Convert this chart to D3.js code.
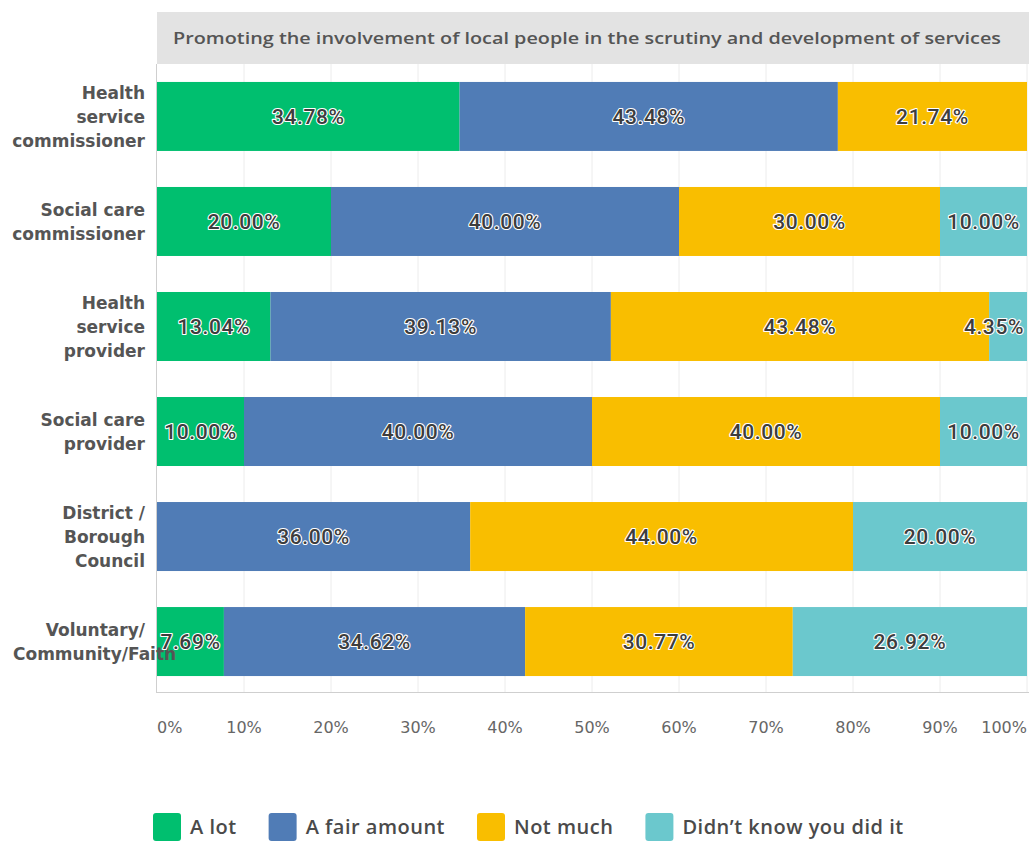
<!DOCTYPE html>
<html>
<head>
<meta charset="utf-8">
<script src="https://cdn.jsdelivr.net/npm/d3@7"></script>
<style>
  body { margin: 0; background: #fff; }
  svg { display: block; }
  text { font-family: "Open Sans", sans-serif; }
</style>
</head>
<body>
<svg id="chart" width="1029" height="841"></svg>
<script>
// Survey responses, percentage of respondents per organisation type
const chartTitle = "Promoting the involvement of local people in the scrutiny and development of services";

const categories = [
  "Health service commissioner",
  "Social care commissioner",
  "Health service provider",
  "Social care provider",
  "District / Borough Council",
  "Voluntary/ Community/Faith"
];
// How each category label wraps onto lines
const categoryLines = [
  ["Health", "service", "commissioner"],
  ["Social care", "commissioner"],
  ["Health", "service", "provider"],
  ["Social care", "provider"],
  ["District /", "Borough", "Council"],
  ["Voluntary/", "Community/Faith"]
];

const seriesNames = ["A lot", "A fair amount", "Not much", "Didn\u2019t know you did it"];
const aLot        = [34.78, 20.00, 13.04, 10.00, 0.00, 7.69];
const aFairAmount = [43.48, 40.00, 39.13, 40.00, 36.00, 34.62];
const notMuch     = [21.74, 30.00, 43.48, 40.00, 44.00, 30.77];
const didntKnow   = [0.00, 10.00, 4.35, 10.00, 20.00, 26.92];

const tickValues = [0, 10, 20, 30, 40, 50, 60, 70, 80, 90, 100];
const tickLabels = ["0%", "10%", "20%", "30%", "40%", "50%", "60%", "70%", "80%", "90%", "100%"];

const colors = ["#00BF6F", "#507CB6", "#F9BE00", "#6BC8CD"];

// Table for the stack layout
const seriesValues = [aLot, aFairAmount, notMuch, didntKnow];
const rows = categories.map((c, i) => {
  const r = { category: c };
  seriesNames.forEach((s, j) => { r[s] = seriesValues[j][i]; });
  return r;
});

const svg = d3.select("#chart");
const plot = { left: 157, right: 1027, top: 64, bottom: 694 };

const x = d3.scaleLinear().domain([0, 100]).range([plot.left, plot.right]);
const y = d3.scaleBand().domain(categories).range([plot.top, plot.bottom])
  .paddingInner(0.343).paddingOuter(0.171);
const color = d3.scaleOrdinal().domain(seriesNames).range(colors);

// Title strip
svg.append("rect")
  .attr("x", plot.left).attr("y", 12)
  .attr("width", 1029 - plot.left).attr("height", 52)
  .attr("fill", "#e3e3e3");
svg.append("text")
  .attr("x", 173).attr("y", 38)
  .attr("dy", "0.36em")
  .attr("font-size", 16.5).attr("font-weight", 600)
  .attr("fill", "#555")
  .attr("textLength", 828).attr("lengthAdjust", "spacingAndGlyphs")
  .text(chartTitle);

// Vertical gridlines
svg.append("g").selectAll("line")
  .data(tickValues.slice(1))
  .join("line")
  .attr("x1", d => x(d)).attr("x2", d => x(d))
  .attr("y1", plot.top).attr("y2", plot.bottom - 1)
  .attr("stroke", "#ececec").attr("stroke-width", 1);

// Axis frame: left and bottom
svg.append("line")
  .attr("x1", plot.left - 0.5).attr("x2", plot.left - 0.5)
  .attr("y1", plot.top).attr("y2", plot.bottom - 1)
  .attr("stroke", "#cfcfcf");
svg.append("line")
  .attr("x1", plot.left - 1).attr("x2", 1029)
  .attr("y1", plot.bottom - 1.5).attr("y2", plot.bottom - 1.5)
  .attr("stroke", "#cfcfcf");

// Stacked bars
const stacked = d3.stack().keys(seriesNames)(rows);
const layers = svg.append("g").selectAll("g")
  .data(stacked)
  .join("g")
  .attr("fill", d => color(d.key));
layers.selectAll("rect")
  .data(d => d.filter(p => p[1] - p[0] > 0))
  .join("rect")
  .attr("x", d => x(d[0]))
  .attr("y", d => y(d.data.category))
  .attr("width", d => x(d[1]) - x(d[0]))
  .attr("height", y.bandwidth());

// Category labels (right-aligned; a line too long for the margin runs on to the right)
const catBoxLeft = 13, catRight = 145, lineH = 24;
const catG = svg.append("g");
categories.forEach((c, i) => {
  const lines = categoryLines[i];
  const cy = y(c) + y.bandwidth() / 2;
  lines.forEach((ln, k) => {
    const t = catG.append("text")
      .attr("y", cy + (k - (lines.length - 1) / 2) * lineH)
      .attr("dy", "0.36em")
      .style("font-family", "'DejaVu Sans', sans-serif")
      .attr("font-size", 17).attr("font-weight", 700)
      .attr("fill", "#555")
      .text(ln);
    const w = t.node().getComputedTextLength();
    if (w > catRight - catBoxLeft + 2) {
      t.attr("x", catBoxLeft).attr("text-anchor", "start");
    } else {
      t.attr("x", catRight).attr("text-anchor", "end");
    }
  });
});

// Value labels, centred in each segment and kept inside the plot
const labelData = [];
stacked.forEach(layer => layer.forEach(p => {
  const v = p[1] - p[0];
  if (v > 0) labelData.push({ v, x0: p[0], x1: p[1], category: p.data.category });
}));
const labels = svg.append("g").selectAll("text")
  .data(labelData)
  .join("text")
  .attr("y", d => y(d.category) + y.bandwidth() / 2)
  .attr("dy", "0.36em")
  .attr("text-anchor", "middle")
  .style("font-family", "Roboto, sans-serif")
  .attr("font-size", 21).attr("font-weight", 500)
  .attr("letter-spacing", 0.6)
  .attr("fill", "#3d3d3d")
  .attr("stroke", "#fff").attr("stroke-width", 2.2)
  .attr("stroke-linejoin", "round")
  .attr("paint-order", "stroke")
  .text(d => d.v.toFixed(2) + "%");
labels.each(function(d) {
  const w = this.getComputedTextLength();
  let cx = (x(d.x0) + x(d.x1)) / 2;
  cx = Math.max(plot.left + 3 + w / 2, Math.min(plot.right - 3 - w / 2, cx));
  d3.select(this).attr("x", cx);
});

// Percentage tick labels, clamped to the plot edges
const ticks = svg.append("g").selectAll("text")
  .data(tickValues)
  .join("text")
  .attr("y", 727)
  .attr("dy", "0.36em")
  .attr("text-anchor", "middle")
  .style("font-family", "'DejaVu Sans', sans-serif")
  .attr("font-size", 16)
  .attr("fill", "#666")
  .text((d, i) => tickLabels[i]);
ticks.each(function(d) {
  const w = this.getComputedTextLength();
  let cx = x(d);
  cx = Math.max(plot.left + w / 2, Math.min(plot.right - w / 2, cx));
  d3.select(this).attr("x", cx);
});

// Legend
const legend = svg.append("g").attr("transform", "translate(153,813)");
let lx = 0;
seriesNames.forEach((s, i) => {
  const g = legend.append("g").attr("transform", `translate(${lx},0)`);
  g.append("rect")
    .attr("width", 28).attr("height", 28).attr("rx", 3)
    .attr("fill", color(s));
  const t = g.append("text")
    .attr("x", 37).attr("y", 21)
    .attr("font-size", 20).attr("font-weight", 600)
    .attr("letter-spacing", 0.5)
    .attr("fill", "#4a4a4a")
    .text(s);
  lx += 37 + t.node().getComputedTextLength() + 32;
});
</script>
</body>
</html>
